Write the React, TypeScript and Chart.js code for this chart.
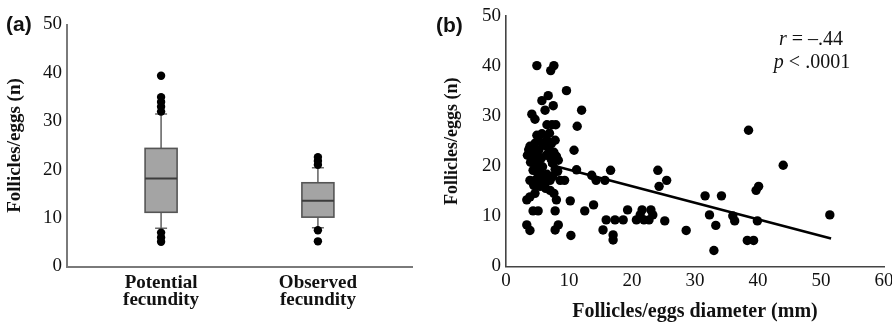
import React, { useEffect, useRef } from 'react';
import { Chart, registerables } from 'chart.js';

Chart.register(...registerables);

const SERIF = '"Liberation Serif", "Times New Roman", serif';
const SANS = '"Liberation Sans", Arial, sans-serif';

// ---- Panel (a): box plot ----
const categories = [
  ['Potential', 'fecundity'],
  ['Observed', 'fecundity'],
];
const boxLow = [7.9, 8.0];
const boxQ1 = [11.2, 10.2];
const boxMedian = [18.2, 13.6];
const boxQ3 = [24.4, 17.3];
const boxHigh = [31.5, 20.4];
const outlierGroup = [0, 0, 0, 0, 0, 0, 0, 0, 1, 1, 1, 1, 1];
const outlierValue = [39.4, 35, 34, 33, 32, 7, 6, 5.1, 22.6, 21.8, 21, 7.5, 5.2];

// ---- Panel (b): scatter ----
const diameterMm = [
  4.9, 7.6, 7.1, 9.6, 6.7, 5.7, 7.5, 6.2, 12.0, 4.1,
  4.6, 11.3, 6.5, 7.3, 7.9, 4.9, 5.7, 7.8, 6.5, 10.8,
  5.3, 4.6, 6.0, 7.2, 3.6, 4.3, 5.2, 6.8, 7.6, 3.4,
  4.1, 4.8, 5.6, 6.4, 7.2, 8.0, 8.3, 3.9, 4.7, 5.5,
  5.8, 7.4, 7.8, 4.3, 5.0, 5.8, 6.5, 7.4, 8.2, 11.2,
  3.8, 4.7, 5.5, 6.3, 7.0, 8.6, 9.3, 5.4, 6.3, 7.0,
  4.6, 3.8, 7.6, 8.0, 3.3, 10.2, 4.3, 5.1, 7.8, 12.5,
  13.9, 3.3, 3.8, 8.3, 7.8, 10.3, 13.6, 14.3, 15.7, 16.6,
  19.3, 15.9, 17.3, 18.6, 15.4, 17.0, 17.0, 20.7, 21.3, 21.6,
  21.9, 22.7, 23.0, 23.3, 25.2, 28.6, 24.1, 25.5, 24.3, 31.6,
  34.2, 32.3, 33.3, 33.0, 36.0, 36.3, 39.9, 38.3, 39.3, 40.1,
  39.7, 38.5, 44.0, 51.4, 5.0, 6.9, 3.8, 4.4,
];
const follicleCount = [
  40.1, 40.1, 39.1, 35.1, 34.1, 33.1, 32.1, 31.2, 31.2, 30.4,
  29.4, 28.0, 28.3, 28.3, 28.3, 26.2, 26.5, 25.2, 25.2, 23.2,
  25.0, 24.6, 24.2, 24.5, 23.3, 23.7, 23.2, 23.4, 22.8, 22.2,
  21.8, 22.5, 21.6, 22.2, 21.3, 22.0, 21.2, 20.8, 20.5, 20.0,
  19.9, 20.6, 19.4, 19.2, 18.7, 18.3, 18.4, 18.0, 19.0, 19.3,
  17.2, 17.3, 17.0, 16.8, 17.2, 17.2, 17.2, 16.0, 15.6, 15.2,
  14.6, 13.9, 14.6, 13.3, 13.3, 13.1, 11.1, 11.1, 11.1, 11.1,
  12.3, 8.3, 7.2, 8.3, 7.3, 6.2, 18.2, 17.2, 17.2, 19.2,
  11.3, 9.3, 9.3, 9.3, 7.3, 6.3, 5.3, 9.3, 10.3, 11.3,
  9.3, 9.3, 11.3, 10.3, 9.1, 7.2, 19.2, 17.2, 16.0, 14.1,
  14.1, 10.3, 8.2, 3.2, 10.1, 9.1, 9.1, 5.2, 5.2, 16.0,
  15.2, 27.2, 20.2, 10.3, 21.0, 26.6, 24.0, 16.2,
];
const trendX = [6.7, 51.6];
const trendY = [20.4, 5.6];

const statR = '–.44';
const statP = '< .0001';

function BoxPanel() {
  const ref = useRef<HTMLCanvasElement | null>(null);
  useEffect(() => {
    const canvas = ref.current!;
    const boxPlugin = {
      id: 'boxDraw',
      beforeDatasetsDraw(chart: any) {
        const { ctx, scales } = chart;
        const x = scales.x;
        const y = scales.y;
        ctx.save();
        for (let i = 0; i < boxQ1.length; i++) {
          const cx = x.getPixelForValue(i);
          const half = 16;
          const cap = 6;
          const yLow = y.getPixelForValue(boxLow[i]);
          const yQ1 = y.getPixelForValue(boxQ1[i]);
          const yMed = y.getPixelForValue(boxMedian[i]);
          const yQ3 = y.getPixelForValue(boxQ3[i]);
          const yHigh = y.getPixelForValue(boxHigh[i]);
          ctx.strokeStyle = '#6a6a6a';
          ctx.lineWidth = 1.6;
          ctx.beginPath();
          ctx.moveTo(cx, yHigh);
          ctx.lineTo(cx, yQ3);
          ctx.moveTo(cx, yQ1);
          ctx.lineTo(cx, yLow);
          ctx.moveTo(cx - cap, yHigh);
          ctx.lineTo(cx + cap, yHigh);
          ctx.moveTo(cx - cap, yLow);
          ctx.lineTo(cx + cap, yLow);
          ctx.stroke();
          ctx.fillStyle = '#a4a4a4';
          ctx.fillRect(cx - half, yQ3, half * 2, yQ1 - yQ3);
          ctx.strokeStyle = '#555555';
          ctx.lineWidth = 1.6;
          ctx.strokeRect(cx - half, yQ3, half * 2, yQ1 - yQ3);
          ctx.strokeStyle = '#3c3c3c';
          ctx.lineWidth = 2;
          ctx.beginPath();
          ctx.moveTo(cx - half, yMed);
          ctx.lineTo(cx + half, yMed);
          ctx.stroke();
        }
        ctx.restore();
      },
      afterDraw(chart: any) {
        const { ctx } = chart;
        ctx.save();
        ctx.fillStyle = '#111';
        ctx.font = `bold 21px ${SANS}`;
        ctx.textBaseline = 'middle';
        ctx.textAlign = 'left';
        ctx.fillText('(a)', 6, 25);
        ctx.restore();
      },
    };
    const chart = new Chart(canvas, {
      type: 'scatter',
      data: {
        datasets: [
          {
            data: outlierValue.map((v, i) => ({ x: outlierGroup[i], y: v })),
            pointRadius: 4.2,
            pointBackgroundColor: '#000',
            pointBorderColor: '#000',
            pointBorderWidth: 0,
          },
        ],
      },
      options: {
        responsive: false,
        animation: false,
        events: [],
        layout: { padding: { left: 0, right: 8, top: 24.5, bottom: 0 } },
        plugins: { legend: { display: false }, tooltip: { enabled: false } },
        scales: {
          x: {
            type: 'linear',
            min: -0.6,
            max: 1.6,
            afterBuildTicks: (s: any) => {
              s.ticks = categories.map((_, i) => ({ value: i }));
            },
            ticks: {
              callback: (v: any) => categories[v as number],
              font: { family: SERIF, size: 19, weight: 'bold', lineHeight: '17px' } as any,
              color: '#111',
              padding: 8,
              maxRotation: 0,
              autoSkip: false,
            },
            grid: { display: false, drawTicks: false },
            border: { display: true, color: '#7a7a7a', width: 2 },
            afterFit: (s: any) => {
              s.height = 57.5;
              s.paddingLeft = 0;
              s.paddingRight = 0;
            },
          },
          y: {
            min: 0,
            max: 50,
            ticks: {
              stepSize: 10,
              font: { family: SERIF, size: 19 },
              color: '#111',
              padding: 5,
            },
            grid: { display: false, drawTicks: false },
            border: { display: true, color: '#7a7a7a', width: 2 },
            title: {
              display: true,
              text: 'Follicles/eggs (n)',
              font: { family: SERIF, size: 19, weight: 'bold' } as any,
              color: '#111',
              padding: { top: 3.5, bottom: 0 },
            },
            afterFit: (s: any) => {
              s.width = 67;
              s.paddingTop = 0;
              s.paddingBottom = 0;
            },
          },
        },
      },
      plugins: [boxPlugin],
    } as any);
    return () => chart.destroy();
  }, []);
  return (
    <canvas
      ref={ref}
      width={420}
      height={324}
      style={{ position: 'absolute', left: 0, top: 0, width: 420, height: 324 }}
    />
  );
}

function ScatterPanel() {
  const ref = useRef<HTMLCanvasElement | null>(null);
  useEffect(() => {
    const canvas = ref.current!;
    const annot = {
      id: 'annot',
      afterDraw(chart: any) {
        const { ctx } = chart;
        ctx.save();
        ctx.fillStyle = '#111';
        ctx.textBaseline = 'middle';
        ctx.textAlign = 'left';
        ctx.font = `bold 21px ${SANS}`;
        ctx.fillText('(b)', 16, 26);
        const drawLine = (ital: string, rest: string, cx: number, cy: number) => {
          ctx.font = `italic 20px ${SERIF}`;
          const w1 = ctx.measureText(ital).width;
          ctx.font = `20px ${SERIF}`;
          const w2 = ctx.measureText(rest).width;
          const x0 = cx - (w1 + w2) / 2;
          ctx.font = `italic 20px ${SERIF}`;
          ctx.fillText(ital, x0, cy);
          ctx.font = `20px ${SERIF}`;
          ctx.fillText(rest, x0 + w1, cy);
        };
        drawLine('r', ' = ' + statR, 391, 40);
        drawLine('p', ' ' + statP, 392, 63);
        ctx.restore();
      },
    };
    const chart = new Chart(canvas, {
      type: 'scatter',
      data: {
        datasets: [
          {
            type: 'line',
            data: trendX.map((v, i) => ({ x: v, y: trendY[i] })),
            borderColor: '#000',
            borderWidth: 2.6,
            pointRadius: 0,
            fill: false,
          },
          {
            data: diameterMm.map((v, i) => ({ x: v, y: follicleCount[i] })),
            pointRadius: 4.7,
            pointBackgroundColor: '#000',
            pointBorderColor: '#000',
            pointBorderWidth: 0,
          },
        ],
      },
      options: {
        responsive: false,
        animation: false,
        events: [],
        layout: { padding: { left: 0, right: 8, top: 16, bottom: 0 } },
        plugins: { legend: { display: false }, tooltip: { enabled: false } },
        scales: {
          x: {
            type: 'linear',
            min: 0,
            max: 60,
            ticks: {
              stepSize: 10,
              font: { family: SERIF, size: 19 },
              color: '#111',
              padding: 3,
              maxRotation: 0,
            },
            grid: { display: false, drawTicks: false },
            border: { display: true, color: '#444', width: 1.6 },
            title: {
              display: true,
              text: 'Follicles/eggs diameter (mm)',
              font: { family: SERIF, size: 20, weight: 'bold' } as any,
              color: '#111',
              padding: { top: 0, bottom: 0 },
            },
            afterFit: (s: any) => {
              s.height = 57.5;
              s.paddingLeft = 0;
              s.paddingRight = 0;
            },
          },
          y: {
            min: 0,
            max: 50,
            ticks: {
              stepSize: 10,
              font: { family: SERIF, size: 19 },
              color: '#111',
              padding: 5,
            },
            grid: { display: false, drawTicks: false },
            border: { display: true, color: '#444', width: 1.6 },
            title: {
              display: true,
              text: 'Follicles/eggs (n)',
              font: { family: SERIF, size: 18, weight: 'bold' } as any,
              color: '#111',
              padding: { top: 21.5, bottom: 0 },
            },
            afterFit: (s: any) => {
              s.width = 86;
              s.paddingTop = 0;
              s.paddingBottom = 0;
            },
          },
        },
      },
      plugins: [annot],
    } as any);
    return () => chart.destroy();
  }, []);
  return (
    <canvas
      ref={ref}
      width={472}
      height={324}
      style={{ position: 'absolute', left: 420, top: 0, width: 472, height: 324 }}
    />
  );
}

export default function App() {
  return (
    <div
      style={{
        position: 'fixed',
        left: 0,
        top: 0,
        width: 892,
        height: 324,
        background: '#fff',
        overflow: 'hidden',
      }}
    >
      <BoxPanel />
      <ScatterPanel />
    </div>
  );
}
